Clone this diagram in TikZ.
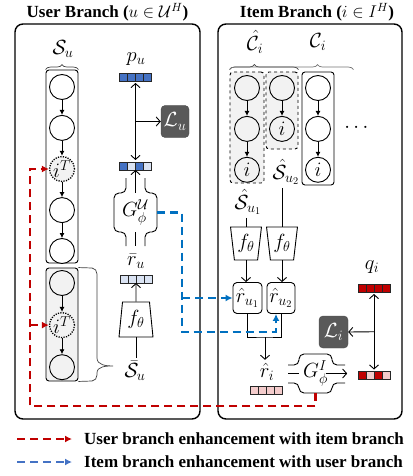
\documentclass[tikz,border=0pt]{standalone}
\usepackage{fix-cm}
\usepackage{amsmath}
\usepackage{fontspec}
\setmainfont{Liberation Serif}
\usepackage{tikz}
\usetikzlibrary{positioning,calc,arrows.meta,shapes.geometric,decorations.pathreplacing}

\definecolor{ublue}{HTML}{4472C4}
\definecolor{ulight}{HTML}{DAE3F3}
\definecolor{ired}{HTML}{C00000}
\definecolor{ipink}{HTML}{F4CCCC}
\definecolor{seqgray}{HTML}{F2F2F2}
\definecolor{lossgray}{HTML}{595959}
\definecolor{bdash}{HTML}{0070C0}
\definecolor{legblue}{HTML}{4472C4}

% embedding vector: name, centre, four cell colours
\newcommand{\embvec}[3]{%
  \node[vecnode] (#1) at #2 {};
  \foreach \vcol [count=\k from 0] in {#3}
    \draw[veccell, fill=\vcol] ($(#1.north west)+(\k*8,0)$) rectangle ++(8,8);
}

\begin{document}
\begin{tikzpicture}[
    x=1pt, y=-1pt,
    font=\fontsize{20.5}{24}\selectfont,
    node distance=15pt,
    branchbox/.style={draw, line width=1.4pt, rounded corners=8pt, inner sep=0pt},
    titletext/.style={font=\fontsize{17}{20}\selectfont\bfseries, inner sep=0pt},
    seqbox/.style={draw, line width=0.9pt, rounded corners=3pt, minimum width=32pt, inner sep=0pt},
    circ/.style={circle, draw, line width=0.9pt, minimum size=25pt, inner sep=0pt, fill=white},
    dotcirc/.style={dash pattern=on 1.2pt off 1.3pt, line width=1.3pt, fill=seqgray},
    seqarr/.style={-{Latex[length=5pt,width=5pt]}, line width=0.9pt},
    arr/.style={-{Straight Barb[length=4pt,width=9pt]}, line width=0.9pt},
    dblarr/.style={{Straight Barb[length=4pt,width=9pt]}-{Straight Barb[length=4pt,width=9pt]}, line width=0.9pt, shorten <=2pt, shorten >=2pt},
    lossnode/.style={draw=black!70, fill=lossgray, rounded corners=4pt, text=white, minimum width=28pt, minimum height=32pt, inner sep=0pt},
    vecnode/.style={minimum width=32pt, minimum height=8pt, inner sep=0pt, outer sep=0pt},
    veccell/.style={draw=black!85, line width=0.9pt},
    gnode/.style={minimum width=43pt, minimum height=39pt, inner sep=0pt},
    ftrap/.style={trapezium, draw, line width=0.9pt, trapezium stretches=true, inner sep=0pt},
    rbox/.style={draw, rounded corners=4pt, line width=0.9pt, minimum height=31pt, inner sep=0pt},
    bracestyle/.style={decorate, draw=black!75, line width=0.7pt},
    reddash/.style={draw=ired, line width=2.2pt, dash pattern=on 8pt off 5pt, -{Latex[length=7pt,width=7pt]}},
    bluedash/.style={draw=bdash, line width=2.2pt, dash pattern=on 8pt off 5pt, -{Latex[length=7pt,width=7pt]}},
    legendtext/.style={anchor=west, font=\fontsize{17}{20}\selectfont\bfseries, inner sep=0pt}
]
\useasboundingbox (0,0) rectangle (412,476);

% --- User branch ---
\node[branchbox, minimum width=185pt, minimum height=395pt] (ubox) at (107.5,221.5) {};
\node[titletext] (utitle) at (107.5,12) {User Branch ($u\in\mathcal{U}^H$)};

% full sequence
\node[seqbox, minimum height=193pt] (seq1) at (62,166.5) {};
\node[circ] (c11) at (62,87) {};
\node[circ, below=of c11] (c12) {};
\node[circ, dotcirc, below=of c12] (c13) {$i^T$};
\node[circ, below=of c13] (c14) {};
\node[circ, below=of c14] (c15) {};
\foreach \a/\b in {c11/c12, c12/c13, c13/c14, c14/c15}
  \draw[seqarr] (\a) -- (\b);
\node (su) at (63,49) {$\mathcal{S}_u$};
\draw[bracestyle, decoration={brace, amplitude=5pt}] (seq1.north west) -- (seq1.north east);

% sub-sequence
\node[seqbox, fill=seqgray, minimum height=113pt] (seq2) at (62,324.5) {};
\node[circ, fill=seqgray] (c21) at (62,283) {};
\node[circ, dotcirc, below=16pt of c21] (c22) {$i^T$};
\node[circ, fill=seqgray, below=16pt of c22] (c23) {};
\foreach \a/\b in {c21/c22, c22/c23}
  \draw[seqarr] (\a) -- (\b);
\draw[bracestyle] (seq2.north east) -- (92,268) to[out=0,in=90] (97,274) -- (97,358)
  to[out=-90,in=180] (113,366) to[out=180,in=90] (97,373) -- (97,375)
  to[out=-90,in=0] (92,381) -- (seq2.south east);
\node (sbar) at (135,371) {$\bar{\mathcal{S}}_u$};

% user representation
\node (pu) at (136,59) {$p_u$};
\embvec{pv1}{(135.5,77)}{ublue,ublue,ublue,ublue}
\embvec{pv2}{(135.5,166)}{ublue,ulight,ublue,ulight}
\node[lossnode] (lu) at (175,121.5) {$\mathcal{L}_u$};
\draw[dblarr] (pv1.south) -- (pv2.north);
\draw[arr] ($(pv1.south)!0.5!(pv2.north)$) -- (lu.west);

% generator G^U
\node[gnode] (gu) at (135.5,212.5) {$G_\phi^{\mathcal{U}}$};
\draw[line width=0.9pt, rounded corners=5pt] (126,178) -- (126,193) -- (114,193) -- (114,232) -- (126,232) -- (126,246);
\draw[line width=0.9pt, rounded corners=5pt] (145,178) -- (145,193) -- (157,193) -- (157,232) -- (145,232) -- (145,246);
\draw[arr] (gu.north) -- (pv2.south);
\draw[line width=0.9pt] (gu.south) -- ++(0,14);

\node (ru) at (136,261) {$\bar{r}_u$};
\embvec{rv}{(136,279)}{ulight,ulight,ulight,ulight}
\node[ftrap, trapezium left angle=83, trapezium right angle=83, minimum width=34pt, minimum height=35pt] (ftu) at (136,319.5) {$f_\theta$};
\draw[arr] (ftu.north) -- (rv.south);
\draw[line width=0.9pt] (ftu.south) -- (ftu.south |- sbar.north);

% --- Item branch ---
\node[branchbox, minimum width=184pt, minimum height=395pt] (ibox) at (310,221.5) {};
\node[titletext] (ititle) at (317,12) {Item Branch ($i\in I^H$)};

\node (chat) at (255,42) {$\hat{\mathcal{C}}_i$};
\node (ci) at (318,42) {$\mathcal{C}_i$};

\node[seqbox, dashed, fill=seqgray, minimum width=34pt, minimum height=111pt] (col1) at (247,127.5) {};
\node[seqbox, dashed, fill=seqgray, minimum height=77pt] (col2) at (282,110.5) {};
\node[seqbox, minimum height=113pt] (col3) at (318,128.5) {};
\draw[bracestyle, decoration={brace, amplitude=5pt, aspect=0.36}] ($(col1.north west)+(0,-2)$) -- ($(col2.north east)+(0,-2)$);
\draw[bracestyle, draw=black!55, decoration={brace, amplitude=5pt, aspect=0.71}] ($(col1.north west)+(0,-2)$) -- ($(col3.north east)+(19,-2)$);

\node[circ, fill=seqgray] (a1) at (247,88) {};
\node[circ, fill=seqgray, below=of a1] (a2) {};
\node[circ, fill=seqgray, below=of a2] (a3) {$i$};
\node[circ, fill=seqgray] (b1) at (282,88) {};
\node[circ, fill=seqgray, below=of b1] (b2) {$i$};
\node[circ] (d1) at (318,88) {};
\node[circ, below=of d1] (d2) {};
\node[circ, below=of d2] (d3) {$i$};
\foreach \a/\b in {a1/a2, a2/a3, b1/b2, d1/d2, d2/d3}
  \draw[seqarr] (\a) -- (\b);
\node (dots) at (358,128) {$\cdots$};

% encoders for the sub-sequences
\node (su1) at (248,202) {$\hat{\mathcal{S}}_{u_1}$};
\node (su2) at (286,172) {$\hat{\mathcal{S}}_{u_2}$};
\node[ftrap, trapezium left angle=99, trapezium right angle=99, minimum width=31pt, minimum height=33pt] (ft1) at (246,243.5) {$f_\theta$};
\node[ftrap, trapezium left angle=99, trapezium right angle=99, minimum width=31pt, minimum height=33pt] (ft2) at (282,243.5) {$f_\theta$};
\draw[line width=0.9pt] (ft1.north |- su1.south) -- (ft1.north);
\draw[line width=0.9pt] (ft2.north |- su2.south) -- (ft2.north);

\node[rbox, minimum width=29pt] (ru1) at (247.5,298) {$\hat{r}_{u_1}$};
\node[rbox, minimum width=28pt] (ru2) at (281,298) {$\hat{r}_{u_2}$};
\draw[arr] (ft1.south) -- (ft1.south |- ru1.north);
\draw[arr] (ft2.south) -- (ft2.south |- ru2.north);

\coordinate (mg) at (265,337);
\draw[line width=0.9pt] (ru1.south) |- (mg) -| (ru2.south);
\node (rhat) at (267,372) {$\hat{r}_i$};
\draw[arr] (mg) -- (mg |- rhat.north);
\embvec{riv}{(266.5,390.5)}{ipink,ipink,ipink,ipink}

% generator G^I
\node[gnode, minimum width=33pt] (gi) at (315.5,373.5) {$G_\phi^{I}$};
\draw[line width=0.9pt, rounded corners=5pt] (288,365) -- (299,365) -- (299,354) -- (332,354) -- (332,365) -- (345,365);
\draw[line width=0.9pt, rounded corners=5pt] (288,383) -- (299,383) -- (299,393) -- (332,393) -- (332,383) -- (345,383);
\draw[line width=0.9pt] (gi.west) -- ++(-11,0);
\draw[arr] ($(gi.east)+(-6,0)$) -- ++(21,0);

% item representation
\node (qi) at (372,267) {$q_i$};
\embvec{qv1}{(374,288)}{ired,ired,ired,ired}
\embvec{qv2}{(374,375.5)}{ired,ipink,ired,ipink}
\node[lossnode, minimum width=29pt] (li) at (333.5,332) {$\mathcal{L}_i$};
\draw[dblarr] (qv1.south) -- (qv2.north);
\draw[arr] ($(qv1.south)!0.5!(qv2.north)$) -- (li.east);

% --- Cross-branch enhancement ---
\coordinate (rb) at (30,406);
\draw[reddash] (gi.south) |- (rb) |- (c13.west);
\draw[reddash] (rb |- c22.west) -- (c22.west);

\coordinate (bb) at (182,332);
\draw[bluedash] (gu.east) -| (bb) -| ($(ru2.south)+(-5,0)$);
\draw[bluedash] (bb |- ru1.west) -- (ru1.west);

% --- Legend ---
\coordinate (lr1) at (17,439);
\coordinate (lr2) at (72,439);
\coordinate (lb1) at (17,462);
\coordinate (lb2) at (72,462);
\draw[reddash] (lr1) -- (lr2);
\draw[bluedash, draw=legblue] (lb1) -- (lb2);
\node[legendtext] (lt1) at (84,439) {User branch enhancement with item branch};
\node[legendtext] (lt2) at (84,462) {Item branch enhancement with user branch};

\end{tikzpicture}
\end{document}
